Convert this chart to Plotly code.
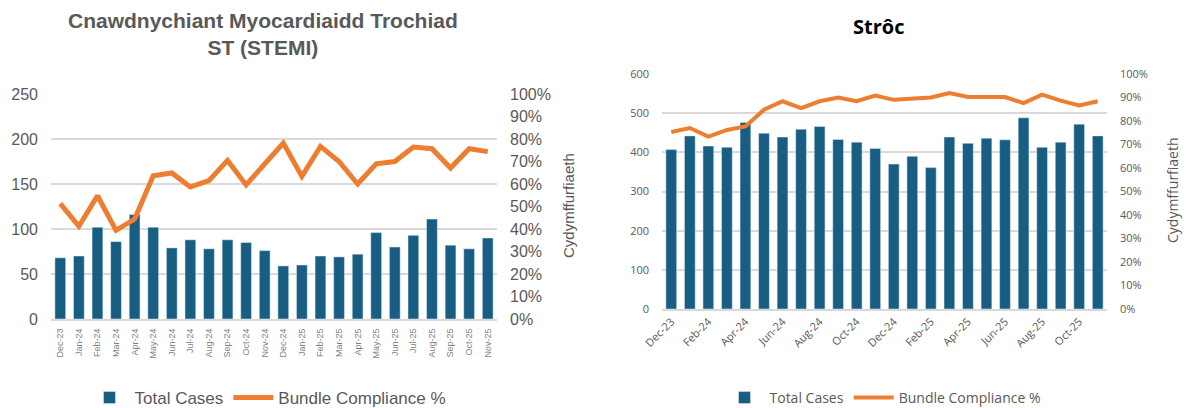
import plotly.graph_objects as go

months = ["Dec-23", "Jan-24", "Feb-24", "Mar-24", "Apr-24", "May-24", "Jun-24", "Jul-24",
          "Aug-24", "Sep-24", "Oct-24", "Nov-24", "Dec-24", "Jan-25", "Feb-25", "Mar-25",
          "Apr-25", "May-25", "Jun-25", "Jul-25", "Aug-25", "Sep-25", "Oct-25", "Nov-25"]

stemi_cases = [68, 70, 102, 86, 116, 102, 79, 88, 78, 88, 85, 76,
               59, 60, 70, 69, 72, 96, 80, 93, 111, 82, 78, 90]
stemi_compliance = [0.513, 0.412, 0.548, 0.394, 0.444, 0.637, 0.649, 0.587, 0.615, 0.705, 0.596, 0.689,
                    0.782, 0.634, 0.767, 0.700, 0.600, 0.690, 0.700, 0.764, 0.757, 0.671, 0.757, 0.744]

stroke_cases = [407, 442, 416, 413, 476, 449, 439, 459, 466, 433, 426, 410,
                370, 390, 361, 439, 423, 436, 432, 488, 413, 426, 472, 442]
stroke_compliance = [0.753, 0.770, 0.734, 0.762, 0.777, 0.848, 0.884, 0.855, 0.884, 0.900, 0.884, 0.908,
                     0.890, 0.893, 0.900, 0.919, 0.902, 0.902, 0.902, 0.876, 0.912, 0.887, 0.866, 0.884]

stroke_tick_months = months[::2]

BAR = "#175E82"
ORANGE = "#ED7D31"
GRID = "#D9D9D9"
W, H = 1186, 408
ARIAL = "Liberation Sans, Arial, sans-serif"
SEGOE = "Open Sans, Noto Sans, sans-serif"

def px(x):
    return x / W

def py(y):
    return (H - y) / H

fig = go.Figure()

# Left chart (STEMI)
fig.add_trace(go.Bar(x=months, y=stemi_cases, name="Total Cases", marker_color=BAR,
                     xaxis="x", yaxis="y", legend="legend"))
fig.add_trace(go.Scatter(x=months, y=stemi_compliance, name="Bundle Compliance %", mode="lines",
                         line=dict(color=ORANGE, width=5), xaxis="x", yaxis="y2", legend="legend"))

# Right chart (Stroke)
fig.add_trace(go.Bar(x=months, y=stroke_cases, name="Total Cases", marker_color=BAR,
                     xaxis="x3", yaxis="y3", legend="legend2"))
fig.add_trace(go.Scatter(x=months, y=stroke_compliance, name="Bundle Compliance %", mode="lines",
                         line=dict(color=ORANGE, width=4), xaxis="x3", yaxis="y4", legend="legend2"))

fig.update_layout(
    width=W, height=H,
    margin=dict(l=0, r=0, t=0, b=0, autoexpand=False),
    paper_bgcolor="white", plot_bgcolor="white",
    bargap=0.42,
    xaxis=dict(domain=[px(51), px(497)], anchor="y", type="category", automargin=False,
               tickangle=-90, tickfont=dict(family=ARIAL, size=9, color="#7F7F7F"),
               showgrid=False, showline=True, linecolor=GRID, linewidth=2,
               ticks="", ticklabelstandoff=4),
    yaxis=dict(domain=[py(319), py(94)], anchor="x", range=[0, 250], dtick=50, automargin=False,
               showgrid=True, gridcolor=GRID, gridwidth=2, zeroline=False,
               tickfont=dict(family=ARIAL, size=16, color="#595959"), ticklabelstandoff=12),
    yaxis2=dict(overlaying="y", anchor="x", side="right", range=[0, 1], dtick=0.1, automargin=False,
                tickformat=".0%", showgrid=False, zeroline=False,
                tickfont=dict(family=ARIAL, size=16, color="#595959"), ticklabelstandoff=12),
    xaxis3=dict(domain=[px(662), px(1107)], anchor="y3", type="category", automargin=False,
                tickangle=-45, tickmode="array", tickvals=stroke_tick_months,
                ticktext=stroke_tick_months,
                tickfont=dict(family=SEGOE, size=11, color="#595959"),
                showgrid=False, showline=True, linecolor=GRID, linewidth=2, ticks=""),
    yaxis3=dict(domain=[py(309), py(74)], anchor="x3", range=[0, 600], dtick=100, automargin=False,
                showgrid=True, gridcolor=GRID, gridwidth=2, zeroline=False,
                tickfont=dict(family=SEGOE, size=11, color="#595959"), ticklabelstandoff=12),
    yaxis4=dict(overlaying="y3", anchor="x3", side="right", range=[0, 1], dtick=0.1, automargin=False,
                tickformat=".0%", showgrid=False, zeroline=False,
                tickfont=dict(family=SEGOE, size=11, color="#595959"), ticklabelstandoff=12),
    legend=dict(orientation="h", x=px(268), y=py(398), xanchor="center", yanchor="middle",
                font=dict(family=ARIAL, size=17, color="#595959"), bgcolor="rgba(0,0,0,0)",
                itemwidth=40),
    legend2=dict(orientation="h", x=px(883), y=py(398), xanchor="center", yanchor="middle",
                 font=dict(family=SEGOE, size=14, color="#595959"), bgcolor="rgba(0,0,0,0)",
                 itemwidth=40),
    annotations=[
        dict(text="<b>Cnawdnychiant Myocardiaidd Trochiad<br>ST (STEMI)</b>", x=px(263), y=py(34),
             xref="paper", yref="paper", showarrow=False, xanchor="center", yanchor="middle",
             font=dict(family=ARIAL, size=21, color="#595959")),
        dict(text="Cydymffurfiaeth", x=px(568), y=py(206), xref="paper", yref="paper",
             showarrow=False, textangle=-90, xanchor="center", yanchor="middle",
             font=dict(family=ARIAL, size=15, color="#595959")),
        dict(text="<b>Strôc</b>", x=px(878), y=py(26), xref="paper", yref="paper",
             showarrow=False, xanchor="center", yanchor="middle",
             font=dict(family=SEGOE, size=20, color="#000000")),
        dict(text="Cydymffurfiaeth", x=px(1172), y=py(190), xref="paper", yref="paper",
             showarrow=False, textangle=-90, xanchor="center", yanchor="middle",
             font=dict(family=SEGOE, size=14, color="#595959")),
    ],
)

fig.write_html("out.html",
               config={"displayModeBar": False},
               post_script="document.body.style.margin='0';document.body.style.padding='0';"
                           "document.body.style.overflow='hidden';")
